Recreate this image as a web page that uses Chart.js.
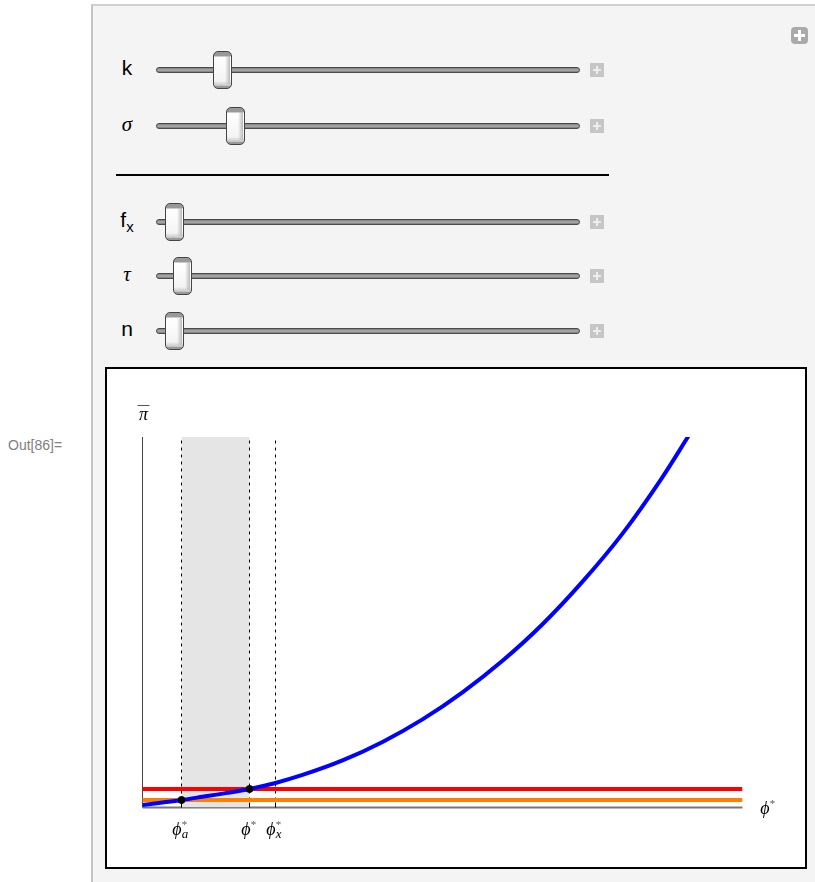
<!DOCTYPE html>
<html>
<head>
<meta charset="utf-8">
<script src="https://cdn.jsdelivr.net/npm/chart.js@4"></script>
<style>
  body { margin: 0; background: #fff; width: 815px; height: 882px; overflow: hidden; position: relative; font-family: "Liberation Sans", Arial, sans-serif; }
  .out { position: absolute; left: 8px; top: 437px; font-size: 14px; color: #808080; }
  .panel { position: absolute; left: 91px; top: 4px; width: 730px; height: 890px; background: #f4f4f4; border-left: 2px solid #c4c4c4; border-top: 2px solid #d0d0d0; }
  .lbl { position: absolute; width: 30px; text-align: center; font-size: 21px; color: #000; }
  .greek { font-family: "Liberation Serif", serif; font-style: italic; }
  .track { position: absolute; left: 156px; width: 422px; height: 4px; border: 1px solid #4a4a4a; border-radius: 4px; background: linear-gradient(#7a7a7a, #b0b0b0 50%, #7a7a7a); }
  .thumb { position: absolute; width: 17px; height: 36px; border: 1px solid #444; border-radius: 5px;
    background: linear-gradient(#999 0, #999 4px, #fff 5px, #f4f4f4 80%, #c8c8c8 93%, #999 94%, #999 100%); box-sizing: content-box; }
  .thumb::after { content: ""; position: absolute; left: 11px; top: 4px; width: 5px; height: 28px; background: linear-gradient(90deg, #fff0, #bbb); }
  .plus { position: absolute; left: 590px; width: 14px; height: 14px; background: #c6c6c6; }
  .plus::before, .plus::after { content: ""; position: absolute; background: #eee; }
  .plus::before { left: 6px; top: 3px; width: 2px; height: 8px; }
  .plus::after { left: 3px; top: 6px; width: 8px; height: 2px; }
  .bigplus { position: absolute; left: 791px; top: 27px; width: 17px; height: 17px; background: #aaa; border-radius: 4px; }
  .bigplus::before, .bigplus::after { content: ""; position: absolute; background: #fff; }
  .bigplus::before { left: 7px; top: 3px; width: 3px; height: 11px; }
  .bigplus::after { left: 3px; top: 7px; width: 11px; height: 3px; }
  .sep { position: absolute; left: 116px; top: 174px; width: 493px; height: 2px; background: #000; }
  .box { position: absolute; left: 105px; top: 367px; width: 698px; height: 498px; border: 2px solid #000; background: #fff; }
</style>
</head>
<body>
<div class="out">Out[86]=</div>
<div class="panel"></div>
<div class="bigplus"></div>
<div id="sliders"></div>
<div class="sep"></div>
<div class="box"><canvas id="chart" width="698" height="498"></canvas></div>
<script>
// blue curve: average profit against productivity cutoff
const phiCurve = [0, 0.2, 0.39, 0.6, 0.85, 1.07, 1.33, 1.6, 2.0, 2.4, 2.8, 3.2, 3.6, 4.0, 4.4, 4.8, 5.2, 5.46];
const piCurve = [0.025, 0.05, 0.075, 0.107, 0.146, 0.185, 0.245, 0.325, 0.47, 0.655, 0.88, 1.15, 1.465, 1.83, 2.255, 2.735, 3.3, 3.71];
// horizontal levels
const piRed = 0.185;
const piOrange = 0.075;
// cutoffs: phi*_a, phi*, phi*_x
const cutoffs = [0.39, 1.07, 1.33];
const cutoffSubs = ["a", "", "x"];
const xMax = 6;
const yMax = 3.7;

// slider controls
const sliderRows = [
  { label: "k", greek: false, top: 70, pos: 222 },
  { label: "\u03c3", greek: true, top: 126, pos: 235 },
  { label: "f<sub style='font-size:15px'>x</sub>", greek: false, top: 222, pos: 174 },
  { label: "\u03c4", greek: true, top: 276, pos: 182 },
  { label: "n", greek: false, top: 331, pos: 174 },
];
const sliders = document.getElementById("sliders");
sliderRows.forEach((r) => {
  sliders.insertAdjacentHTML("beforeend",
    `<div class="lbl ${r.greek ? "greek" : ""}" style="left:112px;top:${r.top - 14}px">${r.label}</div>` +
    `<div class="track" style="top:${r.top - 3}px"></div>` +
    `<div class="thumb" style="left:${r.pos - 9}px;top:${r.top - 19}px"></div>` +
    `<div class="plus" style="top:${r.top - 7}px"></div>`);
});

function line(x0, x1, y0, y1) {
  return [{ x: x0, y: y0 }, { x: x1, y: y1 }];
}

const dashed = cutoffs.map((c) => ({
  data: line(c, c, 0, yMax),
  borderColor: "#000",
  borderWidth: 1,
  borderDash: [3, 4],
  pointRadius: 0,
}));

// axes, ticks and math labels
const decorations = {
  id: "decorations",
  beforeDatasetsDraw(chart) {
    const { ctx, scales: { x, y } } = chart;
    ctx.save();
    ctx.strokeStyle = "#777";
    ctx.lineWidth = 2;
    ctx.beginPath();
    ctx.moveTo(x.getPixelForValue(0), y.getPixelForValue(0));
    ctx.lineTo(x.getPixelForValue(xMax), y.getPixelForValue(0));
    ctx.stroke();
    ctx.strokeStyle = "#444";
    ctx.lineWidth = 1;
    ctx.beginPath();
    ctx.moveTo(x.getPixelForValue(0), y.getPixelForValue(0));
    ctx.lineTo(x.getPixelForValue(0), y.getPixelForValue(yMax));
    ctx.stroke();
    ctx.restore();
  },
  afterDraw(chart) {
    const { ctx, scales: { x, y } } = chart;
    const base = y.getPixelForValue(0);
    ctx.save();
    ctx.fillStyle = "#000";
    ctx.strokeStyle = "#000";
    ctx.lineWidth = 1;
    cutoffs.forEach((c) => {
      const px = x.getPixelForValue(c);
      ctx.beginPath();
      ctx.moveTo(px, base);
      ctx.lineTo(px, base - 5);
      ctx.stroke();
    });
    const phi = (px, py, sub) => {
      ctx.font = "italic 18px 'Liberation Serif', 'DejaVu Serif', serif";
      ctx.textBaseline = "alphabetic";
      const w = ctx.measureText("\u03d5").width;
      const subW = sub ? 7 : 5;
      const left = px - (w + subW) / 2;
      ctx.fillText("\u03d5", left, py);
      ctx.font = "11px 'Liberation Serif', serif";
      ctx.fillStyle = "#555";
      ctx.fillText("*", left + w, py - 7);
      ctx.fillStyle = "#000";
      if (sub) {
        ctx.font = "italic 13px 'Liberation Serif', serif";
        ctx.fillText(sub, left + w, py + 3);
      }
    };
    cutoffs.forEach((c, i) => phi(x.getPixelForValue(c) - 1, base + 27, cutoffSubs[i]));
    phi(x.getPixelForValue(xMax) + 25, base + 6, "");
    // pi bar
    const py = y.getPixelForValue(yMax) - 17;
    const px = x.getPixelForValue(0);
    ctx.font = "italic 18px 'Liberation Serif', 'DejaVu Serif', serif";
    ctx.textAlign = "center";
    ctx.fillText("\u03c0", px + 1, py);
    ctx.fillStyle = "#555";
    ctx.fillRect(px - 5, py - 15, 12, 1);
    ctx.restore();
  },
};

new Chart(document.getElementById("chart"), {
  type: "line",
  data: {
    datasets: [
      {
        data: [{ x: cutoffs[0], y: piOrange }, { x: cutoffs[1], y: piRed }],
        showLine: false,
        pointRadius: 3.5,
        pointBackgroundColor: "#000",
        pointBorderColor: "#000",
      },
      {
        data: phiCurve.map((v, i) => ({ x: v, y: piCurve[i] })),
        borderColor: "#0000ff",
        borderWidth: 4,
        pointRadius: 0,
        cubicInterpolationMode: "monotone",
      },
      {
        data: line(-0.02, xMax, piRed, piRed),
        borderColor: "#ff0000",
        borderWidth: 4,
        pointRadius: 0,
      },
      {
        data: line(-0.02, xMax, piOrange, piOrange),
        borderColor: "#ff8000",
        borderWidth: 4,
        pointRadius: 0,
      },
      ...dashed,
      {
        data: line(cutoffs[0], cutoffs[1], yMax, yMax),
        borderWidth: 0,
        pointRadius: 0,
        backgroundColor: "#e5e5e5",
        fill: "origin",
      },
    ],
  },
  options: {
    responsive: false,
    animation: false,
    layout: { padding: { left: 35.5, right: 62.5, top: 68, bottom: 59.5 } },
    scales: {
      x: { type: "linear", min: 0, max: xMax, display: false },
      y: { min: 0, max: yMax, display: false },
    },
    plugins: { legend: { display: false }, tooltip: { enabled: false } },
  },
  plugins: [decorations],
});
</script>
</body>
</html>
